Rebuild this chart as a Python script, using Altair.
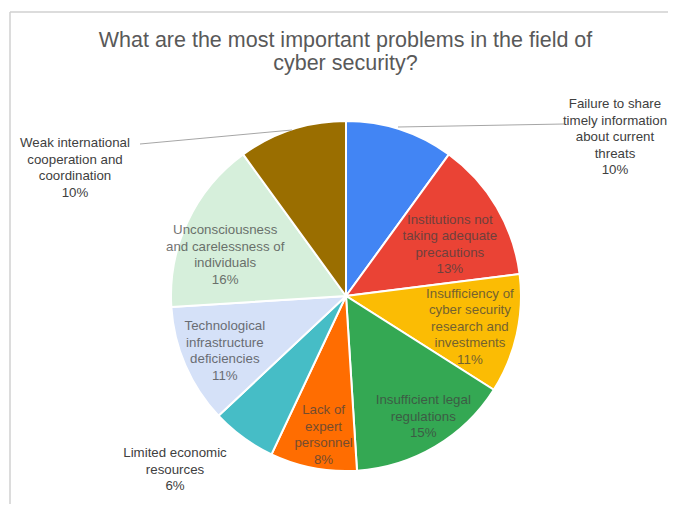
import altair as alt
import pandas as pd

categories = [
    "Failure to share\ntimely information\nabout current\nthreats",
    "Institutions not\ntaking adequate\nprecautions",
    "Insufficiency of\ncyber security\nresearch and\ninvestments",
    "Insufficient legal\nregulations",
    "Lack of\nexpert\npersonnel",
    "Limited economic\nresources",
    "Technological\ninfrastructure\ndeficiencies",
    "Unconsciousness\nand carelessness of\nindividuals",
    "Weak international\ncooperation and\ncoordination",
]
values = [10, 13, 11, 15, 8, 6, 11, 16, 10]
colors = ["#4285F4", "#EA4335", "#FBBC04", "#34A853", "#FF6D01",
          "#46BDC6", "#D5E1F8", "#D6EFDB", "#9A6E00"]

df = pd.DataFrame({
    "category": categories,
    "value": values,
    "idx": list(range(len(categories))),
})
df["label"] = df["category"] + "\n" + df["value"].astype(str) + "%"

CX, CY, R = 338, 288, 175
FONT = "Liberation Sans"
FS = 13.3
LH = 16.5

pie = alt.Chart(df).mark_arc(stroke="white", strokeWidth=2, radius=R).encode(
    theta=alt.Theta("value:Q", stack=True),
    order=alt.Order("idx:O"),
    color=alt.Color("category:N", sort=categories,
                    scale=alt.Scale(domain=categories, range=colors),
                    legend=None),
    x=alt.value(CX), y=alt.value(CY),
)

stacked = alt.Chart(df).transform_window(
    cum="sum(value)", sort=[alt.SortField("idx")], frame=[None, 0]
).transform_calculate(mid="datum.cum - datum.value / 2")


def inner_label(idx, r, dx, dy):
    return stacked.transform_filter(f"datum.idx == {idx}").mark_text(
        radius=r, dx=dx, dy=dy, font=FONT, fontSize=FS, lineBreak="\n",
        align="center", baseline="middle", color="#404040", opacity=0.72,
        lineHeight=LH,
    ).encode(
        theta=alt.Theta("mid:Q", scale=alt.Scale(domain=[0, 100])),
        text="label:N", x=alt.value(CX), y=alt.value(CY),
    )


inner = [
    inner_label(1, 116, 4, -17),
    inner_label(2, 128, -1, -30),
    inner_label(3, 142, 5, -18),
    inner_label(4, 141, 4, -24.5),
    inner_label(6, 132, 0, -22),
    inner_label(7, 128, -5, -11.5),
]


def outside_label(idx, px, py):
    d = df.iloc[[idx]]
    return alt.Chart(d).mark_text(
        font=FONT, fontSize=FS, lineBreak="\n",
        align="center", baseline="middle", color="#404040", lineHeight=LH,
    ).encode(text="label:N", x=alt.value(px), y=alt.value(py))


lab_fail = outside_label(0, 607, 96)
lab_weak = outside_label(8, 67, 135)
lab_limit = outside_label(5, 167, 445)

one = pd.DataFrame({"k": [0]})
lead1 = alt.Chart(one).mark_rule(color="#A6A6A6", strokeWidth=1).encode(
    x=alt.value(390), y=alt.value(119), x2=alt.value(556), y2=alt.value(116))
lead2 = alt.Chart(one).mark_rule(color="#A6A6A6", strokeWidth=1).encode(
    x=alt.value(132), y=alt.value(136), x2=alt.value(284), y2=alt.value(122))

border_top = alt.Chart(one).mark_rule(color="#D0D0D0", strokeWidth=1.5).encode(
    x=alt.value(2), y=alt.value(4), x2=alt.value(668), y2=alt.value(4))
border_left = alt.Chart(one).mark_rule(color="#D0D0D0", strokeWidth=1.5).encode(
    x=alt.value(2), y=alt.value(4), x2=alt.value(2), y2=alt.value(520))

chart = alt.layer(
    border_top, border_left, pie, *inner, lead1, lead2,
    lab_fail, lab_weak, lab_limit,
).properties(
    width=660, height=496,
    padding=0,
    autosize=alt.AutoSizeParams(type="fit", contains="padding"),
    title=alt.TitleParams(
        ["What are the most important problems in the field of", "cyber security?"],
        font=FONT, fontSize=21.5, fontWeight="normal",
        color="#595959", anchor="middle", offset=-66, lineHeight=23, dx=12,
    ),
).configure_view(stroke=None)

chart.save("out.html", embed_options={"renderer": "svg", "actions": False})
